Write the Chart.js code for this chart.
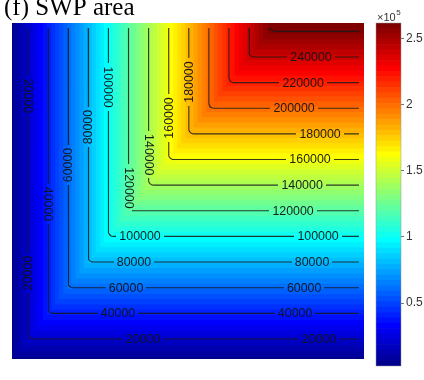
<!DOCTYPE html>
<html>
<head>
<meta charset="utf-8">
<script src="https://cdn.jsdelivr.net/npm/chart.js@4.4.1/dist/chart.umd.min.js"></script>
<style>
  html, body { margin: 0; padding: 0; background: #fff; }
  #wrap { position: relative; width: 424px; height: 380px; overflow: hidden; }
  #main { position: absolute; left: 0; top: 0; width: 424px; height: 380px; }
  #cbar { position: absolute; left: 364px; top: 0; width: 60px; height: 380px; }
</style>
</head>
<body>
<div id="wrap">
  <canvas id="main" width="424" height="380"></canvas>
  <canvas id="cbar" width="60" height="380"></canvas>
</div>
<script>
// ---- data ----------------------------------------------------------------
const titleText = '(f) SWP area';

// surface extent along each axis (same units as the SWP area)
const xExtent = [4080, 354400];
const yExtent = [4370, 266500];
// outermost grid nodes: the contour lines stop here
const xNodeMax = 349400;
const yNodeMax = 262600;

// contour levels of the SWP area
const contourLevels = [20000, 40000, 60000, 80000, 100000, 120000, 140000,
                       160000, 180000, 200000, 220000, 240000, 260000];

// colour scale
const colorLimits = [2300, 262000];
const colorbarTicks = [50000, 100000, 150000, 200000, 250000];
const colorbarTickLabels = ['0.5', '1', '1.5', '2', '2.5'];
const colorbarExponent = '5';

// inline labels on the horizontal legs: level and x where the label sits
const hLabelLevels = [240000, 220000, 200000, 180000, 160000, 140000, 120000,
                      100000, 100000, 80000, 80000, 60000, 60000, 40000, 40000, 20000, 20000];
const hLabelAt     = [301700, 293800, 284800, 310700, 300700, 292800, 283800,
                      308700, 131500, 302700, 125500, 294800, 117600, 285800, 109600, 309700, 134500];

// inline labels on the vertical legs: level, y where it sits, reading direction
const vLabelLevels = [20000, 20000, 40000, 60000, 80000, 100000, 120000, 140000, 160000, 180000];
const vLabelAt     = [209600, 71500, 125300, 155700, 185300, 216500, 137800, 163700, 192400, 220400];
const vLabelDown   = [true, false, true, false, false, true, true, true, false, false];

// ---- colour map (64-entry jet) -------------------------------------------
function jetMap(n) {
  const m = Math.ceil(n / 4);
  const u = [];
  for (let i = 1; i <= m; i++) u.push(i / m);
  for (let i = 1; i < m; i++) u.push(1);
  for (let i = m; i >= 1; i--) u.push(i / m);
  const g0 = Math.ceil(m / 2) - (n % 4 === 1 ? 1 : 0);
  const J = Array.from({ length: n }, () => [0, 0, 0]);
  u.forEach((val, k) => {
    const g = g0 + k + 1, r = g + m, b = g - m;
    if (r >= 1 && r <= n) J[r - 1][0] = val;
    if (g >= 1 && g <= n) J[g - 1][1] = val;
    if (b >= 1 && b <= n) J[b - 1][2] = val;
  });
  return J.map(c => `rgb(${Math.round(c[0] * 255)},${Math.round(c[1] * 255)},${Math.round(c[2] * 255)})`);
}
const jet = jetMap(64);
const nColors = jet.length;
const levelStep = (colorLimits[1] - colorLimits[0]) / nColors;

// ---- drawing helpers -------------------------------------------------------
// SWP area = min(x, y): each colour band starts where both coordinates pass its level
function paintSurface(chart) {
  const { ctx, chartArea: a, scales: { x, y } } = chart;
  ctx.save();
  ctx.beginPath();
  ctx.rect(a.left, a.top, a.right - a.left, a.bottom - a.top);
  ctx.clip();
  for (let k = 0; k < nColors; k++) {
    const v = colorLimits[0] + k * levelStep;
    const px = k === 0 ? a.left : Math.max(a.left, x.getPixelForValue(v));
    const py = k === 0 ? a.bottom : Math.min(a.bottom, y.getPixelForValue(v));
    if (px >= a.right || py <= a.top) continue;
    ctx.fillStyle = jet[k];
    ctx.fillRect(px, a.top, a.right - px, py - a.top);
  }
  ctx.restore();
}

function contourPath(L) {
  const rx = 5000, ry = 3900;          // rounding of the corner
  if (L + ry >= yNodeMax) {
    return [{ x: L, y: yNodeMax }, { x: L + rx, y: L }, { x: xNodeMax, y: L }];
  }
  const pts = [{ x: L, y: yNodeMax }, { x: L, y: L + ry }];
  for (let d = 195; d < 270; d += 15) {
    const t = d * Math.PI / 180;
    pts.push({ x: L + rx + rx * Math.cos(t), y: L + ry + ry * Math.sin(t) });
  }
  pts.push({ x: L + rx, y: L }, { x: xNodeMax, y: L });
  return pts;
}

const labelFont = '12.4px "Liberation Sans", Arial, sans-serif';

const surfacePlugin = {
  id: 'surface',
  beforeDatasetsDraw(chart) { paintSurface(chart); },
  afterDatasetsDraw(chart) {
    const { ctx, scales: { x, y } } = chart;
    ctx.save();
    ctx.font = labelFont;
    const items = [];
    hLabelLevels.forEach((L, i) => items.push({ L, px: x.getPixelForValue(hLabelAt[i]), py: y.getPixelForValue(L), rot: 0 }));
    vLabelLevels.forEach((L, i) => items.push({ L, px: x.getPixelForValue(L), py: y.getPixelForValue(vLabelAt[i]), rot: vLabelDown[i] ? Math.PI / 2 : -Math.PI / 2 }));
    items.forEach(it => {
      const txt = String(it.L);
      const w = ctx.measureText(txt).width;
      const pad = 3;
      // open a gap in the contour under the label by repainting the surface there
      let rx0, ry0, rx1, ry1;
      if (it.rot === 0) {
        rx0 = it.px - w / 2 - pad; rx1 = it.px + w / 2 + pad; ry0 = it.py - 4; ry1 = it.py + 4;
      } else {
        rx0 = it.px - 4; rx1 = it.px + 4; ry0 = it.py - w / 2 - pad; ry1 = it.py + w / 2 + pad;
      }
      rx0 = Math.round(rx0); rx1 = Math.round(rx1); ry0 = Math.round(ry0); ry1 = Math.round(ry1);
      ctx.save();
      ctx.beginPath();
      ctx.rect(rx0, ry0, rx1 - rx0, ry1 - ry0);
      ctx.clip();
      paintSurface(chart);
      ctx.restore();
      ctx.save();
      ctx.translate(it.px, it.py);
      ctx.rotate(it.rot);
      ctx.fillStyle = 'rgba(18,18,24,0.95)';
      ctx.textAlign = 'center';
      ctx.textBaseline = 'middle';
      ctx.font = labelFont;
      ctx.fillText(txt, 0, 0.5);
      ctx.restore();
    });
    ctx.restore();
  },
  afterDraw(chart) {
    const ctx = chart.ctx;
    ctx.save();
    ctx.fillStyle = '#000';
    ctx.font = '25px "Liberation Serif", "Times New Roman", serif';
    ctx.textBaseline = 'alphabetic';
    ctx.fillText(titleText, 4, 15);
    ctx.restore();
  }
};

new Chart(document.getElementById('main'), {
  type: 'scatter',
  data: {
    datasets: contourLevels.map(L => ({
      label: String(L),
      data: contourPath(L),
      showLine: true,
      pointRadius: 0,
      borderColor: 'rgba(25,25,25,0.85)',
      borderWidth: 1.1,
      tension: 0,
      fill: false
    }))
  },
  options: {
    responsive: false,
    animation: false,
    events: [],
    layout: { padding: { left: 12, top: 23, right: 60, bottom: 21 } },
    plugins: { legend: { display: false }, tooltip: { enabled: false } },
    scales: {
      x: { type: 'linear', min: xExtent[0], max: xExtent[1], display: false },
      y: { type: 'linear', min: yExtent[0], max: yExtent[1], display: false }
    }
  },
  plugins: [surfacePlugin]
});

// ---- colour bar ------------------------------------------------------------
const cbarPlugin = {
  id: 'cbarFrame',
  afterDraw(chart) {
    const { ctx, chartArea: a } = chart;
    ctx.save();
    ctx.strokeStyle = 'rgba(150,150,150,0.8)';
    ctx.lineWidth = 0.6;
    ctx.strokeRect(a.left, a.top, a.right - a.left, a.bottom - a.top);
    ctx.fillStyle = '#333';
    ctx.font = '11px "Liberation Sans", Arial, sans-serif';
    ctx.textBaseline = 'alphabetic';
    ctx.fillText('\u00d710', a.left + 1, 21);
    const w = ctx.measureText('\u00d710').width;
    ctx.font = '8px "Liberation Sans", Arial, sans-serif';
    ctx.fillText(colorbarExponent, a.left + 1 + w + 0.5, 15);
    ctx.restore();
  }
};

new Chart(document.getElementById('cbar'), {
  type: 'bar',
  data: {
    labels: [''],
    datasets: jet.map((c, k) => ({
      data: [[colorLimits[0] + k * levelStep, colorLimits[0] + (k + 1) * levelStep]],
      backgroundColor: c,
      borderWidth: 0,
      barPercentage: 1,
      categoryPercentage: 1
    }))
  },
  options: {
    responsive: false,
    animation: false,
    events: [],
    layout: { padding: { left: 12, top: 23, right: 0, bottom: 14 } },
    plugins: { legend: { display: false }, tooltip: { enabled: false } },
    scales: {
      x: { stacked: true, display: false },
      y: {
        position: 'right',
        min: colorLimits[0],
        max: colorLimits[1],
        afterBuildTicks: s => { s.ticks = colorbarTicks.map(v => ({ value: v })); },
        afterFit: s => { s.width = 23; },
        border: { display: false },
        grid: { drawOnChartArea: false, drawTicks: true, tickLength: 3, color: '#777' },
        ticks: {
          padding: 2,
          color: '#333',
          font: { family: '"Liberation Sans", Arial, sans-serif', size: 12 },
          callback: (v) => colorbarTickLabels[colorbarTicks.indexOf(v)] ?? ''
        }
      }
    }
  },
  plugins: [cbarPlugin]
});
</script>
</body>
</html>
